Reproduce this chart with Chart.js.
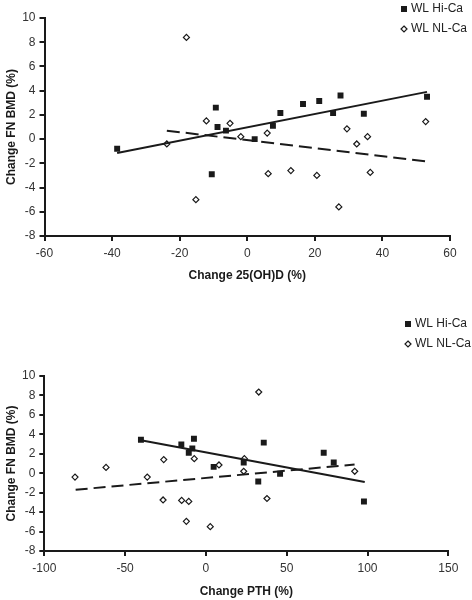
<!DOCTYPE html>
<html>
<head>
<meta charset="utf-8">
<script src="https://cdn.jsdelivr.net/npm/chart.js@4"></script>
<style>
  html, body { margin: 0; padding: 0; background: #fff; }
  canvas { display: block; }
</style>
</head>
<body>
<canvas id="chart-vitd" width="472" height="300"></canvas>
<canvas id="chart-pth" width="472" height="300"></canvas>
<script>
// Values (x = % change, y = % change FN BMD)
var seriesNames = ["WL Hi-Ca", "WL NL-Ca"];

// top panel: change 25(OH)D
var vitdHiX = [-38.5, -10.5, -9.3, -8.8, -6.3, 2.2, 7.6, 9.8, 16.5, 21.3, 25.4, 27.6, 34.5, 53.2];
var vitdHiY = [-0.8, -2.9, 2.6, 1.0, 0.7, 0.0, 1.1, 2.15, 2.9, 3.15, 2.15, 3.6, 2.1, 3.5];
var vitdNlX = [-23.8, -18, -15.2, -12.1, -5.1, -1.9, 5.9, 6.2, 12.9, 20.6, 27.1, 29.5, 32.4, 35.6, 36.4, 52.8];
var vitdNlY = [-0.4, 8.4, -5.0, 1.5, 1.3, 0.2, 0.5, -2.85, -2.6, -3.0, -5.6, 0.85, -0.4, 0.2, -2.75, 1.45];
// trend line end points as drawn
var vitdHiTrendX = [-38.5, 53.2];
var vitdHiTrendY = [-1.15, 3.9];
var vitdNlTrendX = [-23.8, 52.8];
var vitdNlTrendY = [0.7, -1.83];

// bottom panel: change PTH
var pthHiX = [-40.2, -15.2, -10.6, -8.4, -7.4, 4.8, 23.4, 32.4, 35.8, 45.9, 72.9, 79.1, 97.8];
var pthHiY = [3.45, 2.95, 2.1, 2.55, 3.55, 0.65, 1.1, -0.85, 3.15, -0.05, 2.1, 1.1, -2.9];
var pthNlX = [-81, -61.8, -36.3, -26.5, -26.1, -15, -12.1, -10.6, -7.2, 2.7, 8.1, 23.4, 23.8, 32.7, 37.8, 92.1];
var pthNlY = [-0.4, 0.6, -0.4, -2.75, 1.4, -2.8, -4.95, -2.9, 1.5, -5.5, 0.85, 0.2, 1.5, 8.35, -2.6, 0.2];
var pthHiTrendX = [-40.2, 98.3];
var pthHiTrendY = [3.4, -0.9];
var pthNlTrendX = [-80.6, 92];
var pthNlTrendY = [-1.7, 0.9];

// axis ranges / ticks
var yMin = -8, yMax = 10, yStep = 2;
var vitdXMin = -60, vitdXMax = 60, vitdXStep = 20;
var pthXMin = -100, pthXMax = 150, pthXStep = 50;

var ink = "#1a1a1a";
Chart.defaults.font.family = '"Liberation Sans", Arial, sans-serif';
Chart.defaults.font.size = 12;
Chart.defaults.color = "#333";

function toPoints(xs, ys) {
    return xs.map(function (x, i) {
        return { x: x, y: ys[i] };
    });
}

// legend in the top right corner, drawn by hand (square + open diamond)
var cornerLegend = {
    id: "cornerLegend",
    afterDraw: function (chart, args, opts) {
        var ctx = chart.ctx;
        ctx.save();
        ctx.font = '12px "Liberation Sans", Arial, sans-serif';
        ctx.textBaseline = "middle";
        seriesNames.forEach(function (name, k) {
            var y = opts.y + k * opts.gap;
            var x = opts.x;
            if (k === 0) {
                ctx.fillStyle = ink;
                ctx.fillRect(x - 3, y - 3, 6, 6);
            } else {
                ctx.beginPath();
                ctx.moveTo(x, y - 3);
                ctx.lineTo(x + 3, y);
                ctx.lineTo(x, y + 3);
                ctx.lineTo(x - 3, y);
                ctx.closePath();
                ctx.fillStyle = "#fff";
                ctx.fill();
                ctx.strokeStyle = ink;
                ctx.lineWidth = 1.2;
                ctx.stroke();
            }
            ctx.fillStyle = "#222";
            ctx.fillText(name, x + 7, y);
        });
        ctx.restore();
    }
};

function makeDatasets(hiX, hiY, nlX, nlY, hiTX, hiTY, nlTX, nlTY, dash) {
    return [
        {
            type: "line",
            data: toPoints(hiTX, hiTY),
            borderColor: ink,
            borderWidth: 2,
            pointRadius: 0,
            fill: false
        },
        {
            type: "line",
            data: toPoints(nlTX, nlTY),
            borderColor: ink,
            borderWidth: 2,
            borderDash: dash,
            pointRadius: 0,
            fill: false
        },
        {
            label: seriesNames[0],
            data: toPoints(hiX, hiY),
            pointStyle: "rect",
            pointRadius: 4.2,
            backgroundColor: ink,
            borderColor: ink,
            borderWidth: 0
        },
        {
            label: seriesNames[1],
            data: toPoints(nlX, nlY),
            pointStyle: "rectRot",
            pointRadius: 3,
            backgroundColor: "#fff",
            borderColor: ink,
            borderWidth: 1.2
        }
    ];
}

function makeChart(id, datasets, xMin, xMax, xStep, xTitle, area, legendPos) {
    return new Chart(document.getElementById(id).getContext("2d"), {
        type: "scatter",
        data: { datasets: datasets },
        plugins: [cornerLegend],
        options: {
            responsive: false,
            animation: false,
            devicePixelRatio: 1,
            layout: { padding: { top: area.top, right: area.right, left: 0, bottom: 0 } },
            plugins: {
                legend: { display: false },
                tooltip: { enabled: false },
                cornerLegend: legendPos
            },
            scales: {
                x: {
                    type: "linear",
                    min: xMin,
                    max: xMax,
                    ticks: { stepSize: xStep, padding: 5, maxRotation: 0 },
                    grid: { drawOnChartArea: false, drawTicks: true, tickLength: 5, color: ink, lineWidth: 2 },
                    border: { color: ink, width: 2 },
                    title: {
                        display: true,
                        text: xTitle,
                        color: ink,
                        font: { size: 12, weight: "bold" },
                        padding: { top: 0, bottom: area.xTitlePad }
                    },
                    afterFit: function (scale) {
                        scale.height = area.xHeight;
                    }
                },
                y: {
                    min: yMin,
                    max: yMax,
                    ticks: { stepSize: yStep, padding: 4 },
                    grid: { drawOnChartArea: false, drawTicks: true, tickLength: 5, color: ink, lineWidth: 2 },
                    border: { color: ink, width: 2 },
                    title: {
                        display: true,
                        text: "Change FN BMD (%)",
                        color: ink,
                        font: { size: 12, weight: "bold" },
                        padding: { top: 4, bottom: 0 }
                    },
                    afterFit: function (scale) {
                        scale.width = area.yWidth;
                    }
                }
            }
        }
    });
}

makeChart(
    "chart-vitd",
    makeDatasets(vitdHiX, vitdHiY, vitdNlX, vitdNlY, vitdHiTrendX, vitdHiTrendY, vitdNlTrendX, vitdNlTrendY, [13, 6]),
    vitdXMin, vitdXMax, vitdXStep, "Change 25(OH)D (%)",
    { top: 18, right: 22, xHeight: 64, yWidth: 44.5, xTitlePad: 17 },
    { x: 404, y: 9, gap: 20 }
);

makeChart(
    "chart-pth",
    makeDatasets(pthHiX, pthHiY, pthNlX, pthNlY, pthHiTrendX, pthHiTrendY, pthNlTrendX, pthNlTrendY, [12, 6]),
    pthXMin, pthXMax, pthXStep, "Change PTH (%)",
    { top: 76, right: 23.7, xHeight: 49, yWidth: 44.3, xTitlePad: 1 },
    { x: 408, y: 24, gap: 20 }
);
</script>
</body>
</html>
